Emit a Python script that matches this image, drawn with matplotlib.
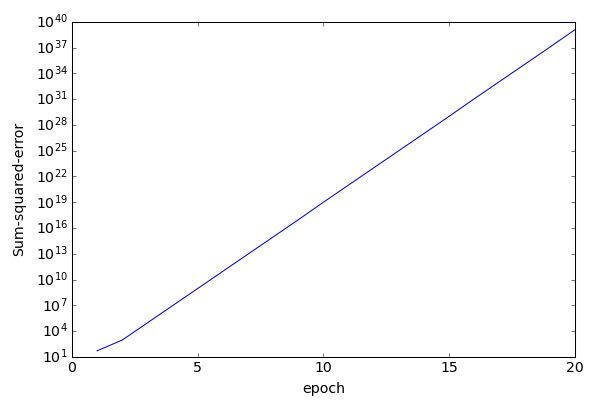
import matplotlib
matplotlib.use("Agg")
import matplotlib.pyplot as plt
from matplotlib.ticker import FixedLocator, NullLocator, LogFormatterSciNotation

plt.style.use("classic")

epochs = list(range(1, 21))
sse = [5e1, 9e2, 9e4, 9e6, 9e8, 9e10, 9e12, 9e14, 9e16, 1e19,
       1e21, 1e23, 1e25, 1e27, 1e29, 1.1e31, 1.1e33, 1.1e35, 1.1e37, 1.2e39]
x_ticks = [0, 5, 10, 15, 20]
y_ticks = [10.0 ** k for k in range(1, 41, 3)]

fig = plt.figure(figsize=(8, 5.4), dpi=75, facecolor="white")
ax = fig.add_subplot(111)
fig.subplots_adjust(left=0.12, right=0.958, bottom=0.119, top=0.946)
ax.plot(epochs, sse, color="b", linewidth=1.0)
ax.set_yscale("log")
ax.set_xlim(0, 20)
ax.set_ylim(1e1, 1e40)
ax.xaxis.set_major_locator(FixedLocator(x_ticks))
ax.yaxis.set_major_locator(FixedLocator(y_ticks))
ax.yaxis.set_major_formatter(LogFormatterSciNotation())
ax.yaxis.set_minor_locator(NullLocator())
ax.xaxis.set_minor_locator(NullLocator())
ax.tick_params(labelsize=13.5)
ax.set_xlabel("epoch", fontsize=13.5, labelpad=7)
ax.set_ylabel("Sum-squared-error", fontsize=13.5, labelpad=9)
fig.savefig("out.png", dpi=75, facecolor="white")
